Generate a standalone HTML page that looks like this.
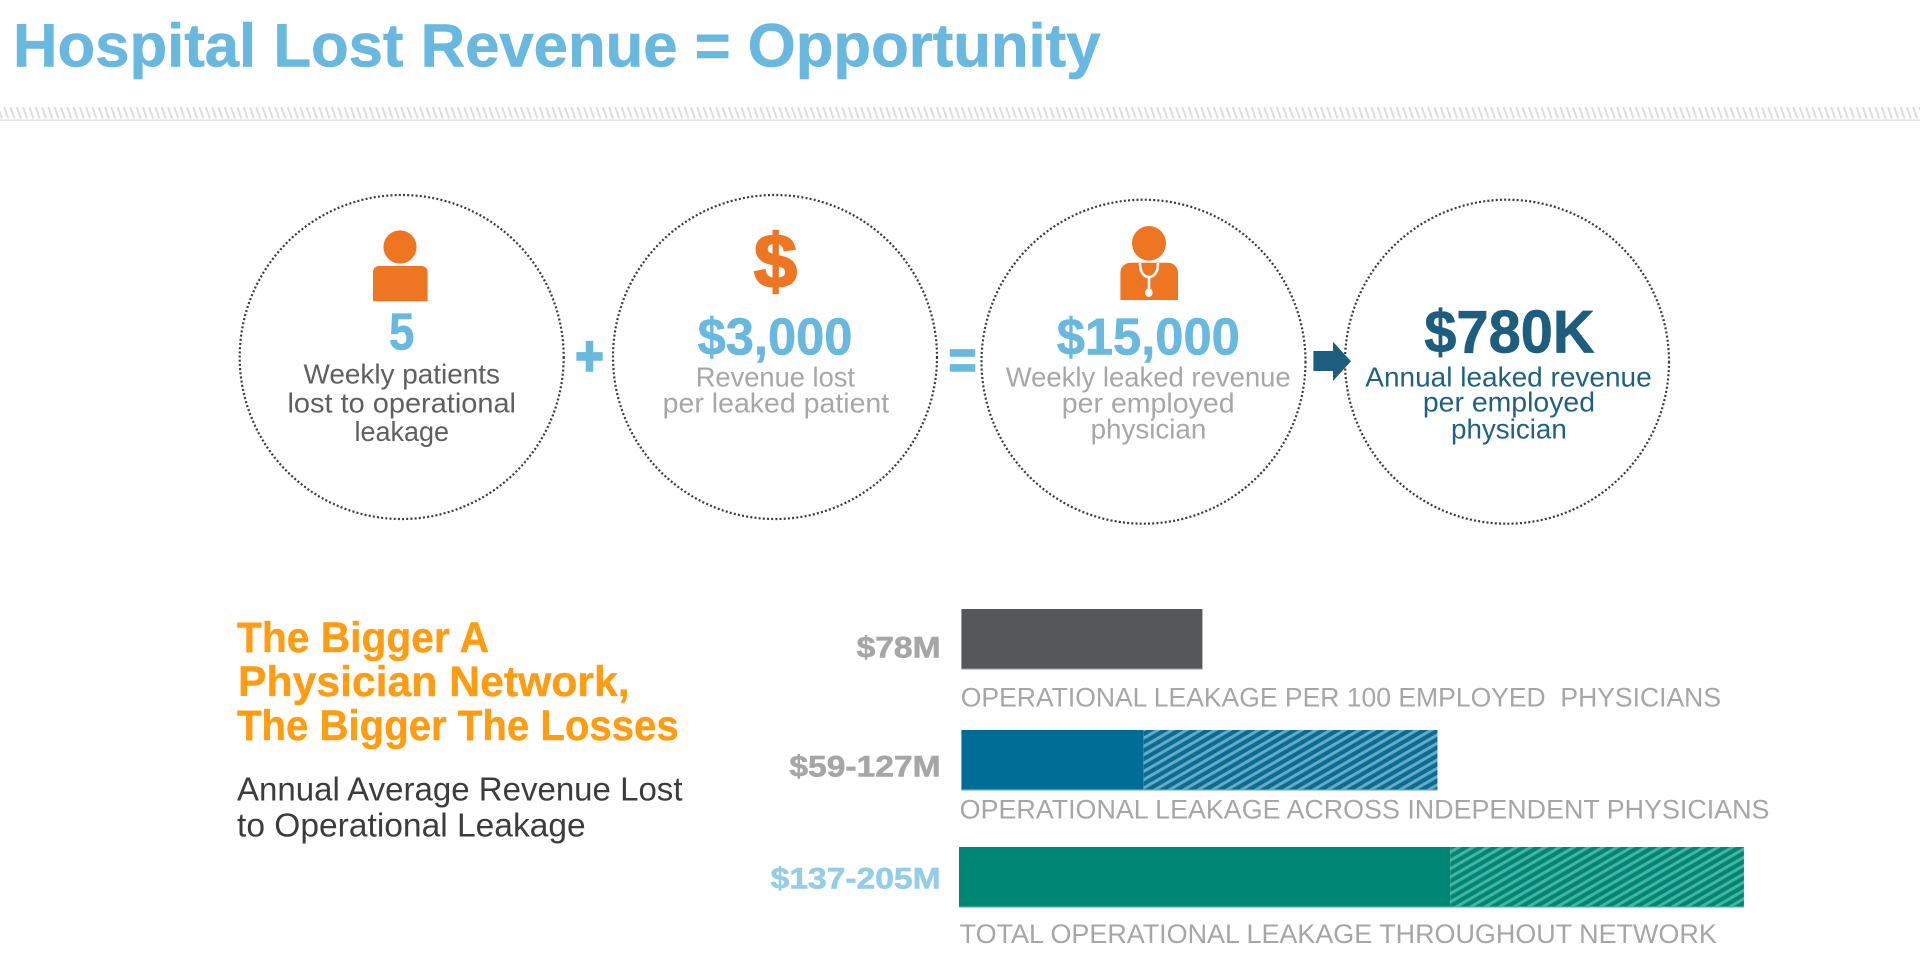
<!DOCTYPE html>
<html lang="en">
<head>
<meta charset="utf-8">
<title>Hospital Lost Revenue = Opportunity</title>
<style>
html,body{margin:0;padding:0;background:#fff;width:1920px;height:969px;overflow:hidden}
svg{display:block}
text{font-family:"Liberation Sans",sans-serif;white-space:pre}
.b{font-weight:700}
</style>
</head>
<body>
<svg id="slide" xmlns="http://www.w3.org/2000/svg" width="1920" height="969" viewBox="0 0 1920 969">
<defs>
<pattern id="rule-hatch" patternUnits="userSpaceOnUse" width="6.3" height="12" patternTransform="translate(0,107)">
<path d="M-2.1 0L2.1 12M4.2 0L8.4 12" stroke="#dcdcdc" stroke-width="2" fill="none"/>
</pattern>
<pattern id="hatch-blue" patternUnits="userSpaceOnUse" width="20" height="7.2" patternTransform="rotate(-30)">
<rect width="20" height="7.2" fill="#0a6c93"/>
<rect width="20" height="3" fill="#68a9c4"/>
</pattern>
<pattern id="hatch-teal" patternUnits="userSpaceOnUse" width="20" height="7.2" patternTransform="rotate(-30)">
<rect width="20" height="7.2" fill="#008675"/>
<rect width="20" height="3" fill="#46b3a3"/>
</pattern>
</defs>

<text class="b" x="13" y="66.7" font-size="61" fill="#68b8df" stroke="#68b8df" stroke-width="0.6" textLength="1087.5" lengthAdjust="spacingAndGlyphs">Hospital Lost Revenue = Opportunity</text>
<rect x="0" y="107" width="1920" height="11.5" fill="url(#rule-hatch)"/>
<rect x="0" y="119.5" width="1920" height="1.2" fill="#dedede"/>

<!-- circles -->
<circle cx="401.7" cy="357" r="162" fill="none" stroke="#3a3a3a" stroke-width="2.2" stroke-dasharray="2 2.2"/>
<circle cx="775" cy="357" r="162" fill="none" stroke="#3a3a3a" stroke-width="2.2" stroke-dasharray="2 2.2"/>
<circle cx="1143.5" cy="361.7" r="162" fill="none" stroke="#3a3a3a" stroke-width="2.2" stroke-dasharray="2 2.2"/>
<circle cx="1507" cy="361.7" r="162" fill="none" stroke="#3a3a3a" stroke-width="2.2" stroke-dasharray="2 2.2"/>

<!-- circle 1 -->
<g fill="#ee7623">
<circle cx="400" cy="247" r="16.6"/>
<path d="M373 301.3V272a6 6 0 0 1 6-6h42.6a6 6 0 0 1 6 6v29.3z"/>
</g>
<text class="b" x="389" y="349.3" font-size="52" fill="#68b8df" stroke="#68b8df" stroke-width="0.6" textLength="25.4" lengthAdjust="spacingAndGlyphs">5</text>
<text x="303.5" y="383.5" font-size="28" fill="#5f5f5f" textLength="196.5" lengthAdjust="spacingAndGlyphs">Weekly patients</text>
<text x="287.5" y="412.7" font-size="28" fill="#5f5f5f" textLength="228.5" lengthAdjust="spacingAndGlyphs">lost to operational</text>
<text x="354.5" y="441" font-size="28" fill="#5f5f5f" textLength="94.5" lengthAdjust="spacingAndGlyphs">leakage</text>

<text class="b" x="575.5" y="375" font-size="56" fill="#68b8df" stroke="#68b8df" stroke-width="2.6" textLength="28" lengthAdjust="spacingAndGlyphs">+</text>

<!-- circle 2 -->
<text class="b" x="754" y="287.5" font-size="76" fill="#ee7623" stroke="#ee7623" stroke-width="2.2" textLength="43" lengthAdjust="spacingAndGlyphs">$</text>
<text class="b" x="697.6" y="354.3" font-size="52" fill="#68b8df" stroke="#68b8df" stroke-width="0.6" textLength="154.8" lengthAdjust="spacingAndGlyphs">$3,000</text>
<text x="695.7" y="386.7" font-size="28" fill="#a7a7a7" textLength="159.3" lengthAdjust="spacingAndGlyphs">Revenue lost</text>
<text x="662.7" y="412.3" font-size="28" fill="#a7a7a7" textLength="226.5" lengthAdjust="spacingAndGlyphs">per leaked patient</text>

<text class="b" x="948.5" y="379" font-size="56" fill="#68b8df" stroke="#68b8df" stroke-width="1.6" textLength="28" lengthAdjust="spacingAndGlyphs">=</text>

<!-- circle 3 -->
<g>
<ellipse cx="1149" cy="243.3" rx="17" ry="17.3" fill="#ee7623"/>
<path d="M1120.4 300V273a10 10 0 0 1 10-10.3h37.6a10 10 0 0 1 10 10.3v27z" fill="#ee7623"/>
<path d="M1140 263C1140 275 1146 277 1149 277C1152 277 1158 275 1158 263M1149 277V290" fill="none" stroke="#fff" stroke-width="2.6"/>
<ellipse cx="1148.8" cy="292.7" rx="3.8" ry="4.4" fill="#fff"/>
</g>
<text class="b" x="1056.7" y="354.3" font-size="52" fill="#68b8df" stroke="#68b8df" stroke-width="0.6" textLength="183.1" lengthAdjust="spacingAndGlyphs">$15,000</text>
<text x="1005.7" y="386.7" font-size="28" fill="#a7a7a7" textLength="285" lengthAdjust="spacingAndGlyphs">Weekly leaked revenue</text>
<text x="1061.8" y="412.3" font-size="28" fill="#a7a7a7" textLength="172.8" lengthAdjust="spacingAndGlyphs">per employed</text>
<text x="1090.6" y="438.3" font-size="28" fill="#a7a7a7" textLength="115.7" lengthAdjust="spacingAndGlyphs">physician</text>

<path d="M1313.4 351H1333V341.7L1351 361.3L1333 381V371H1313.4z" fill="#1d5d7f"/>

<!-- circle 4 -->
<text class="b" x="1424.3" y="352.3" font-size="60" fill="#1d5d7f" stroke="#1d5d7f" stroke-width="0.7" textLength="170.3" lengthAdjust="spacingAndGlyphs">$780K</text>
<text x="1365.3" y="386.7" font-size="28" fill="#1f6083" textLength="286.4" lengthAdjust="spacingAndGlyphs">Annual leaked revenue</text>
<text x="1422.9" y="411.7" font-size="28" fill="#1f6083" textLength="172.1" lengthAdjust="spacingAndGlyphs">per employed</text>
<text x="1451" y="438.3" font-size="28" fill="#1f6083" textLength="115.8" lengthAdjust="spacingAndGlyphs">physician</text>

<!-- lower left -->
<text class="b" x="237" y="652" font-size="43" fill="#ff9c12" stroke="#ff9c12" stroke-width="0.4" textLength="252" lengthAdjust="spacingAndGlyphs">The Bigger A</text>
<text class="b" x="238" y="696" font-size="43" fill="#ff9c12" stroke="#ff9c12" stroke-width="0.4" textLength="391.6" lengthAdjust="spacingAndGlyphs">Physician Network,</text>
<text class="b" x="237" y="740" font-size="43" fill="#ff9c12" stroke="#ff9c12" stroke-width="0.4" textLength="441.7" lengthAdjust="spacingAndGlyphs">The Bigger The Losses</text>
<text x="237" y="800.7" font-size="33" fill="#3c3c3c" textLength="445.5" lengthAdjust="spacingAndGlyphs">Annual Average Revenue Lost</text>
<text x="237" y="836.7" font-size="33" fill="#3c3c3c" textLength="348.7" lengthAdjust="spacingAndGlyphs">to Operational Leakage</text>

<!-- chart -->
<g id="bar-chart"></g>
<text x="960.8" y="706.3" font-size="26.5" fill="#a6a6a6" textLength="760.2" lengthAdjust="spacingAndGlyphs">OPERATIONAL LEAKAGE PER 100 EMPLOYED  PHYSICIANS</text>
<text x="959.7" y="818.7" font-size="26.5" fill="#a6a6a6" textLength="809.7" lengthAdjust="spacingAndGlyphs">OPERATIONAL LEAKAGE ACROSS INDEPENDENT PHYSICIANS</text>
<text x="959.7" y="943" font-size="26.5" fill="#a6a6a6" textLength="757.1" lengthAdjust="spacingAndGlyphs">TOTAL OPERATIONAL LEAKAGE THROUGHOUT NETWORK</text>

<script>
const categories = ['employed', 'independent', 'network'];
const lowValues = [78, 59, 137];
const highValues = [78, 127, 205];
const solidColors = ['#54585a', '#006d97', '#008675'];
const hatchFills = ['none', 'url(#hatch-blue)', 'url(#hatch-teal)'];
const edgeColors = ['#8b8e90', '#5fa6c6', '#45b0a0'];
const labelColors = ['#a6a6a6', '#a6a6a6', '#93cde8'];

/* The reference bars are not drawn to one uniform scale: the solid part
   grows faster past $78M and the hatched range has its own px-per-$M. */
const solidWidth = v => v * 3.09 + Math.max(0, v - 78) * 1.15;
const hatchWidth = d => d * 4.32;
const barLeft = i => i === 2 ? 959 : 961.4;
const barTop = i => 609 + 119 * i + (i === 1 ? 2 : 0);
const barHeight = 60.3;
const labelBaseline = i => 657.3 + 119.4 * i - (i === 2 ? 7.8 : 0);
const formatValue = i => lowValues[i] === highValues[i]
  ? '$' + lowValues[i] + 'M'
  : '$' + lowValues[i] + '-' + highValues[i] + 'M';

const chart = document.getElementById('bar-chart');
const NS = 'http://www.w3.org/2000/svg';

categories.forEach((cat, i) => {
  const x = barLeft(i);
  const y = barTop(i);
  const sw = solidWidth(lowValues[i]);
  const hw = hatchWidth(highValues[i] - lowValues[i]);

  const solid = document.createElementNS(NS, 'rect');
  
  
  solid.setAttribute('x', x);
  solid.setAttribute('y', y);
  solid.setAttribute('width', sw);
  solid.setAttribute('height', barHeight);
  solid.setAttribute('fill', solidColors[i]);
  chart.appendChild(solid);

  if (hw > 0) {
    const hatch = document.createElementNS(NS, 'rect');
    
    
    hatch.setAttribute('x', x + sw);
    hatch.setAttribute('y', y);
    hatch.setAttribute('width', hw);
    hatch.setAttribute('height', barHeight);
    hatch.setAttribute('fill', hatchFills[i]);
    chart.appendChild(hatch);
  }

  const edge = document.createElementNS(NS, 'rect');
  
  
  edge.setAttribute('x', x);
  edge.setAttribute('y', y + barHeight - 1);
  edge.setAttribute('width', sw + hw);
  edge.setAttribute('height', 1.2);
  edge.setAttribute('fill', edgeColors[i]);
  chart.appendChild(edge);

  const label = document.createElementNS(NS, 'text');
  
  
  label.setAttribute('class', 'b');
  label.setAttribute('text-anchor', 'end');
  label.setAttribute('transform', 'translate(940.6,' + labelBaseline(i) + ') scale(1.12,1)');
  label.setAttribute('font-size', '30');
  label.setAttribute('fill', labelColors[i]);
  label.setAttribute('stroke', labelColors[i]);
  label.setAttribute('stroke-width', '0.6');
  label.textContent = formatValue(i);
  chart.appendChild(label);
});
</script>
</svg>
</body>
</html>
